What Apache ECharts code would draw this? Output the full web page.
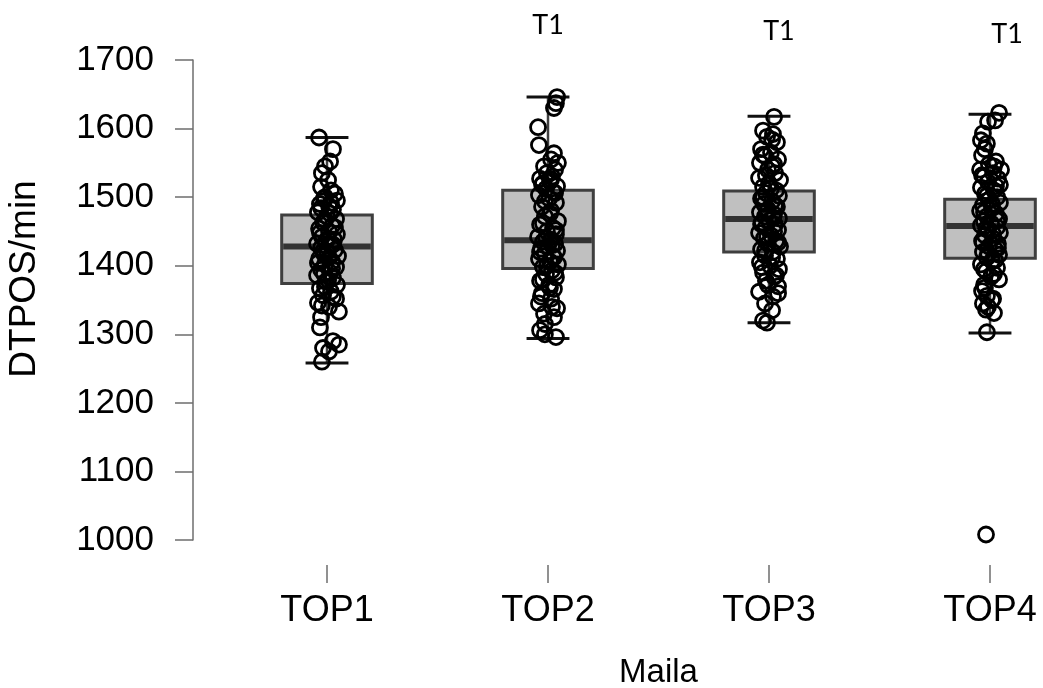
<!DOCTYPE html>
<html>
<head>
<meta charset="utf-8">
<script src="https://cdn.jsdelivr.net/npm/echarts@6/dist/echarts.min.js"></script>
<style>html,body{margin:0;padding:0;background:#fff;overflow:hidden;width:1043px;height:688px}#chart{width:1110px;height:688px}</style>
</head>
<body>
<div id="chart"></div>
<script>
// ---- data ----
const categories = ['TOP1', 'TOP2', 'TOP3', 'TOP4'];
const yTicks = [1000, 1100, 1200, 1300, 1400, 1500, 1600, 1700];

// box statistics per category
const boxMin = [1258, 1294, 1317, 1302];
const boxQ1  = [1374, 1396, 1420, 1411];
const boxMed = [1428, 1437, 1468, 1458];
const boxQ3  = [1474, 1510, 1509, 1497];
const boxMax = [1587, 1646, 1618, 1621];

// individual observations (DTPOS/min)
const top1Values = [1587,1570,1552,1545,1535,1525,1515,1510,1505,1498,1495,1490,1487,1482,1478,1472,1468,1463,1458,1454,1450,1446,1442,1438,1435,1432,1429,1426,1423,1420,1417,1414,1410,1406,1402,1398,1394,1390,1386,1382,1377,1372,1367,1362,1357,1352,1346,1340,1333,1325,1310,1290,1285,1280,1275,1260,
  1500,1492,1484,1476,1466,1456,1448,1440,1431,1421,1412,1404,1396,1388,1379,1369,1355,1342];
const top2Values = [1646,1637,1630,1602,1576,1564,1555,1550,1545,1540,1535,1530,1527,1523,1520,1516,1512,1508,1503,1498,1492,1486,1480,1472,1465,1460,1455,1450,1446,1442,1438,1435,1432,1428,1425,1422,1418,1414,1410,1406,1402,1398,1393,1388,1383,1378,1372,1366,1360,1352,1345,1338,1330,1325,1315,1306,1300,1296,
  1526,1518,1506,1494,1476,1462,1452,1440,1430,1420,1412,1400,1390,1380,1368,1355,1340];
const top3Values = [1617,1597,1592,1588,1580,1570,1565,1560,1555,1550,1545,1540,1535,1528,1525,1520,1515,1510,1506,1502,1498,1494,1490,1486,1482,1478,1475,1472,1469,1466,1463,1460,1456,1452,1448,1444,1440,1436,1432,1428,1424,1420,1415,1410,1405,1400,1395,1390,1384,1378,1370,1362,1360,1345,1335,1320,1317,
  1584,1562,1548,1532,1512,1500,1488,1479,1470,1461,1450,1442,1434,1422,1412,1398,1386,1372,1355];
const top4Values = [1623,1612,1610,1593,1583,1578,1561,1552,1548,1540,1540,1535,1530,1527,1522,1518,1514,1510,1505,1500,1496,1492,1488,1484,1480,1476,1472,1468,1465,1462,1459,1456,1452,1448,1444,1440,1436,1432,1428,1424,1420,1416,1412,1407,1402,1397,1392,1388,1380,1372,1363,1356,1350,1345,1340,1331,1303,1008,
  1570,1545,1532,1516,1502,1490,1478,1466,1454,1446,1434,1426,1418,1408,1395,1384,1368,1352,1336];

// horizontal jitter of each observation, in thousandths of a category width
const top1Jitter = [-36,27,14,-9,-23,5,-27,18,36,-14,45,-32,9,27,-41,0,41,-18,23,-36,9,45,-23,32,-5,-45,18,-27,36,0,-14,50,-36,23,-9,41,-27,14,-45,27,-5,45,-32,18,-18,41,-41,9,54,-27,-32,27,54,-18,9,-23,
  -9,18,-27,14,-9,36,-32,5,27,-18,9,-41,23,-14,5,-9,27,-23];
const top2Jitter = [41,36,27,-45,-41,27,14,45,-18,32,-5,18,-36,9,-23,41,-9,23,-41,5,36,-27,14,-14,45,-36,23,-5,36,-45,14,-23,32,0,-32,41,-14,23,-41,9,45,-23,18,-9,36,-36,5,27,-27,14,-41,41,-18,27,-14,-36,-14,36,
  14,-27,32,-14,9,-23,36,-9,18,-36,27,-5,32,-23,9,-32,18];
const top3Jitter = [23,-27,18,-9,36,-36,9,-18,41,-41,14,-5,27,-45,50,0,-27,32,-14,45,-36,14,-23,36,-5,-41,23,-18,45,0,-32,27,-14,41,-45,9,-23,32,-5,50,-36,18,-18,36,-41,5,45,-27,23,-14,41,-45,41,-18,14,-27,-9,
  14,-27,23,-14,9,-27,27,-9,18,-36,23,-9,41,-18,14,-32,32,-5,18];
const top4Jitter = [41,23,-9,-32,-41,-14,-36,27,-5,-45,50,14,-27,36,-9,45,-41,18,-23,32,-5,45,-32,9,-45,27,-14,41,-27,5,-41,32,-9,45,-23,14,-36,36,-5,23,-32,41,-14,9,-41,32,-18,18,41,-27,-36,-14,9,-32,-9,18,-14,-18,
  -23,18,-36,27,-14,9,-27,32,-18,14,-32,36,-9,23,-27,5,-23,14,-18];

// annotations above the boxes
const annotText = ['T1', 'T1', 'T1'];
const annotCat  = [2, 3.045, 4.077];   // category position (1 = TOP1)
const annotY    = [1750, 1742, 1738];

// ---- build ----
const allValues = [top1Values, top2Values, top3Values, top4Values];
const allJitter = [top1Jitter, top2Jitter, top3Jitter, top4Jitter];
const pointData = [];
allValues.forEach((vals, ci) => {
  vals.forEach((v, k) => pointData.push([ci + 1 + allJitter[ci][k] / 1000, v]));
});
const boxData = categories.map((c, i) => [i, boxMin[i], boxQ1[i], boxMed[i], boxQ3[i], boxMax[i]]);
const annotData = annotText.map((t, i) => [annotCat[i], annotY[i], t]);

const FONT = '"Liberation Sans", Arial, sans-serif';
const chart = echarts.init(document.getElementById('chart'));
chart.setOption({
  animation: false,
  backgroundColor: '#fff',
  grid: { left: 216.5, top: 60, width: 884, height: 480, containLabel: false, outerBoundsMode: 'none' },
  xAxis: [{
    type: 'category',
    data: categories,
    boundaryGap: true,
    offset: 25,
    axisLine: { show: false },
    axisTick: { show: true, alignWithLabel: true, length: 18, lineStyle: { color: '#6e6e6e', width: 1.5 } },
    axisLabel: { color: '#000', fontFamily: FONT, fontSize: 36, margin: 28 },
    splitLine: { show: false },
    name: 'Maila',
    nameLocation: 'middle',
    nameGap: 91,
    nameTextStyle: { color: '#000', fontFamily: FONT, fontSize: 33 }
  }, {
    type: 'value', min: 0.5, max: 4.5, show: false
  }],
  yAxis: {
    type: 'value',
    min: 1000, max: 1700, interval: 100,
    offset: 23.5,
    axisLine: { show: true, lineStyle: { color: '#6e6e6e', width: 1.5 } },
    axisTick: { show: true, length: 18, lineStyle: { color: '#6e6e6e', width: 1.5 } },
    axisLabel: { color: '#000', fontFamily: FONT, fontSize: 35, margin: 39, formatter: v => String(v) },
    splitLine: { show: false }
  },
  graphic: [{
    type: 'text',
    x: 25, y: 279,
    rotation: Math.PI / 2,
    style: { text: 'DTPOS/min', fill: '#000', font: '37px ' + FONT, align: 'center', verticalAlign: 'middle' }
  }],
  series: [{
    type: 'custom',
    xAxisIndex: 0,
    data: boxData,
    encode: { x: 0, y: [1, 2, 3, 4, 5] },
    z: 2,
    renderItem: function (params, api) {
      const i = api.value(0);
      const pMin = api.coord([i, api.value(1)]);
      const pQ1 = api.coord([i, api.value(2)]);
      const pMed = api.coord([i, api.value(3)]);
      const pQ3 = api.coord([i, api.value(4)]);
      const pMax = api.coord([i, api.value(5)]);
      const band = api.size([1, 0])[0];
      const hb = band * 0.205, hc = band * 0.097;
      const x = pMed[0];
      return {
        type: 'group',
        children: [
          { type: 'line', shape: { x1: x, y1: pMax[1], x2: x, y2: pMin[1] }, style: { stroke: '#3f3f3f', lineWidth: 2.5 } },
          { type: 'rect', shape: { x: x - hb, y: pQ3[1], width: 2 * hb, height: pQ1[1] - pQ3[1] }, style: { fill: '#c0c0c0', stroke: '#3f3f3f', lineWidth: 3 } },
          { type: 'line', shape: { x1: x - hb + 1.5, y1: pMed[1], x2: x + hb - 1.5, y2: pMed[1] }, style: { stroke: '#333333', lineWidth: 6 } },
          { type: 'line', shape: { x1: x - hc, y1: pMax[1], x2: x + hc, y2: pMax[1] }, style: { stroke: '#111', lineWidth: 3 } },
          { type: 'line', shape: { x1: x - hc, y1: pMin[1], x2: x + hc, y2: pMin[1] }, style: { stroke: '#111', lineWidth: 3 } }
        ]
      };
    }
  }, {
    type: 'scatter',
    xAxisIndex: 1,
    data: pointData,
    symbol: 'circle',
    symbolSize: 15,
    z: 3,
    itemStyle: { color: 'rgba(0,0,0,0)', borderColor: '#000', borderWidth: 2.8, opacity: 1 },
    emphasis: { disabled: true }
  }, {
    type: 'custom',
    xAxisIndex: 1,
    data: annotData,
    clip: false,
    z: 4,
    renderItem: function (params, api) {
      const p = api.coord([api.value(0), api.value(1)]);
      return { type: 'text', x: p[0], y: p[1], style: { text: annotText[params.dataIndex], fill: '#000', font: '27px Lato, "Open Sans", sans-serif', align: 'center', verticalAlign: 'middle' } };
    }
  }]
});
</script>
</body>
</html>
